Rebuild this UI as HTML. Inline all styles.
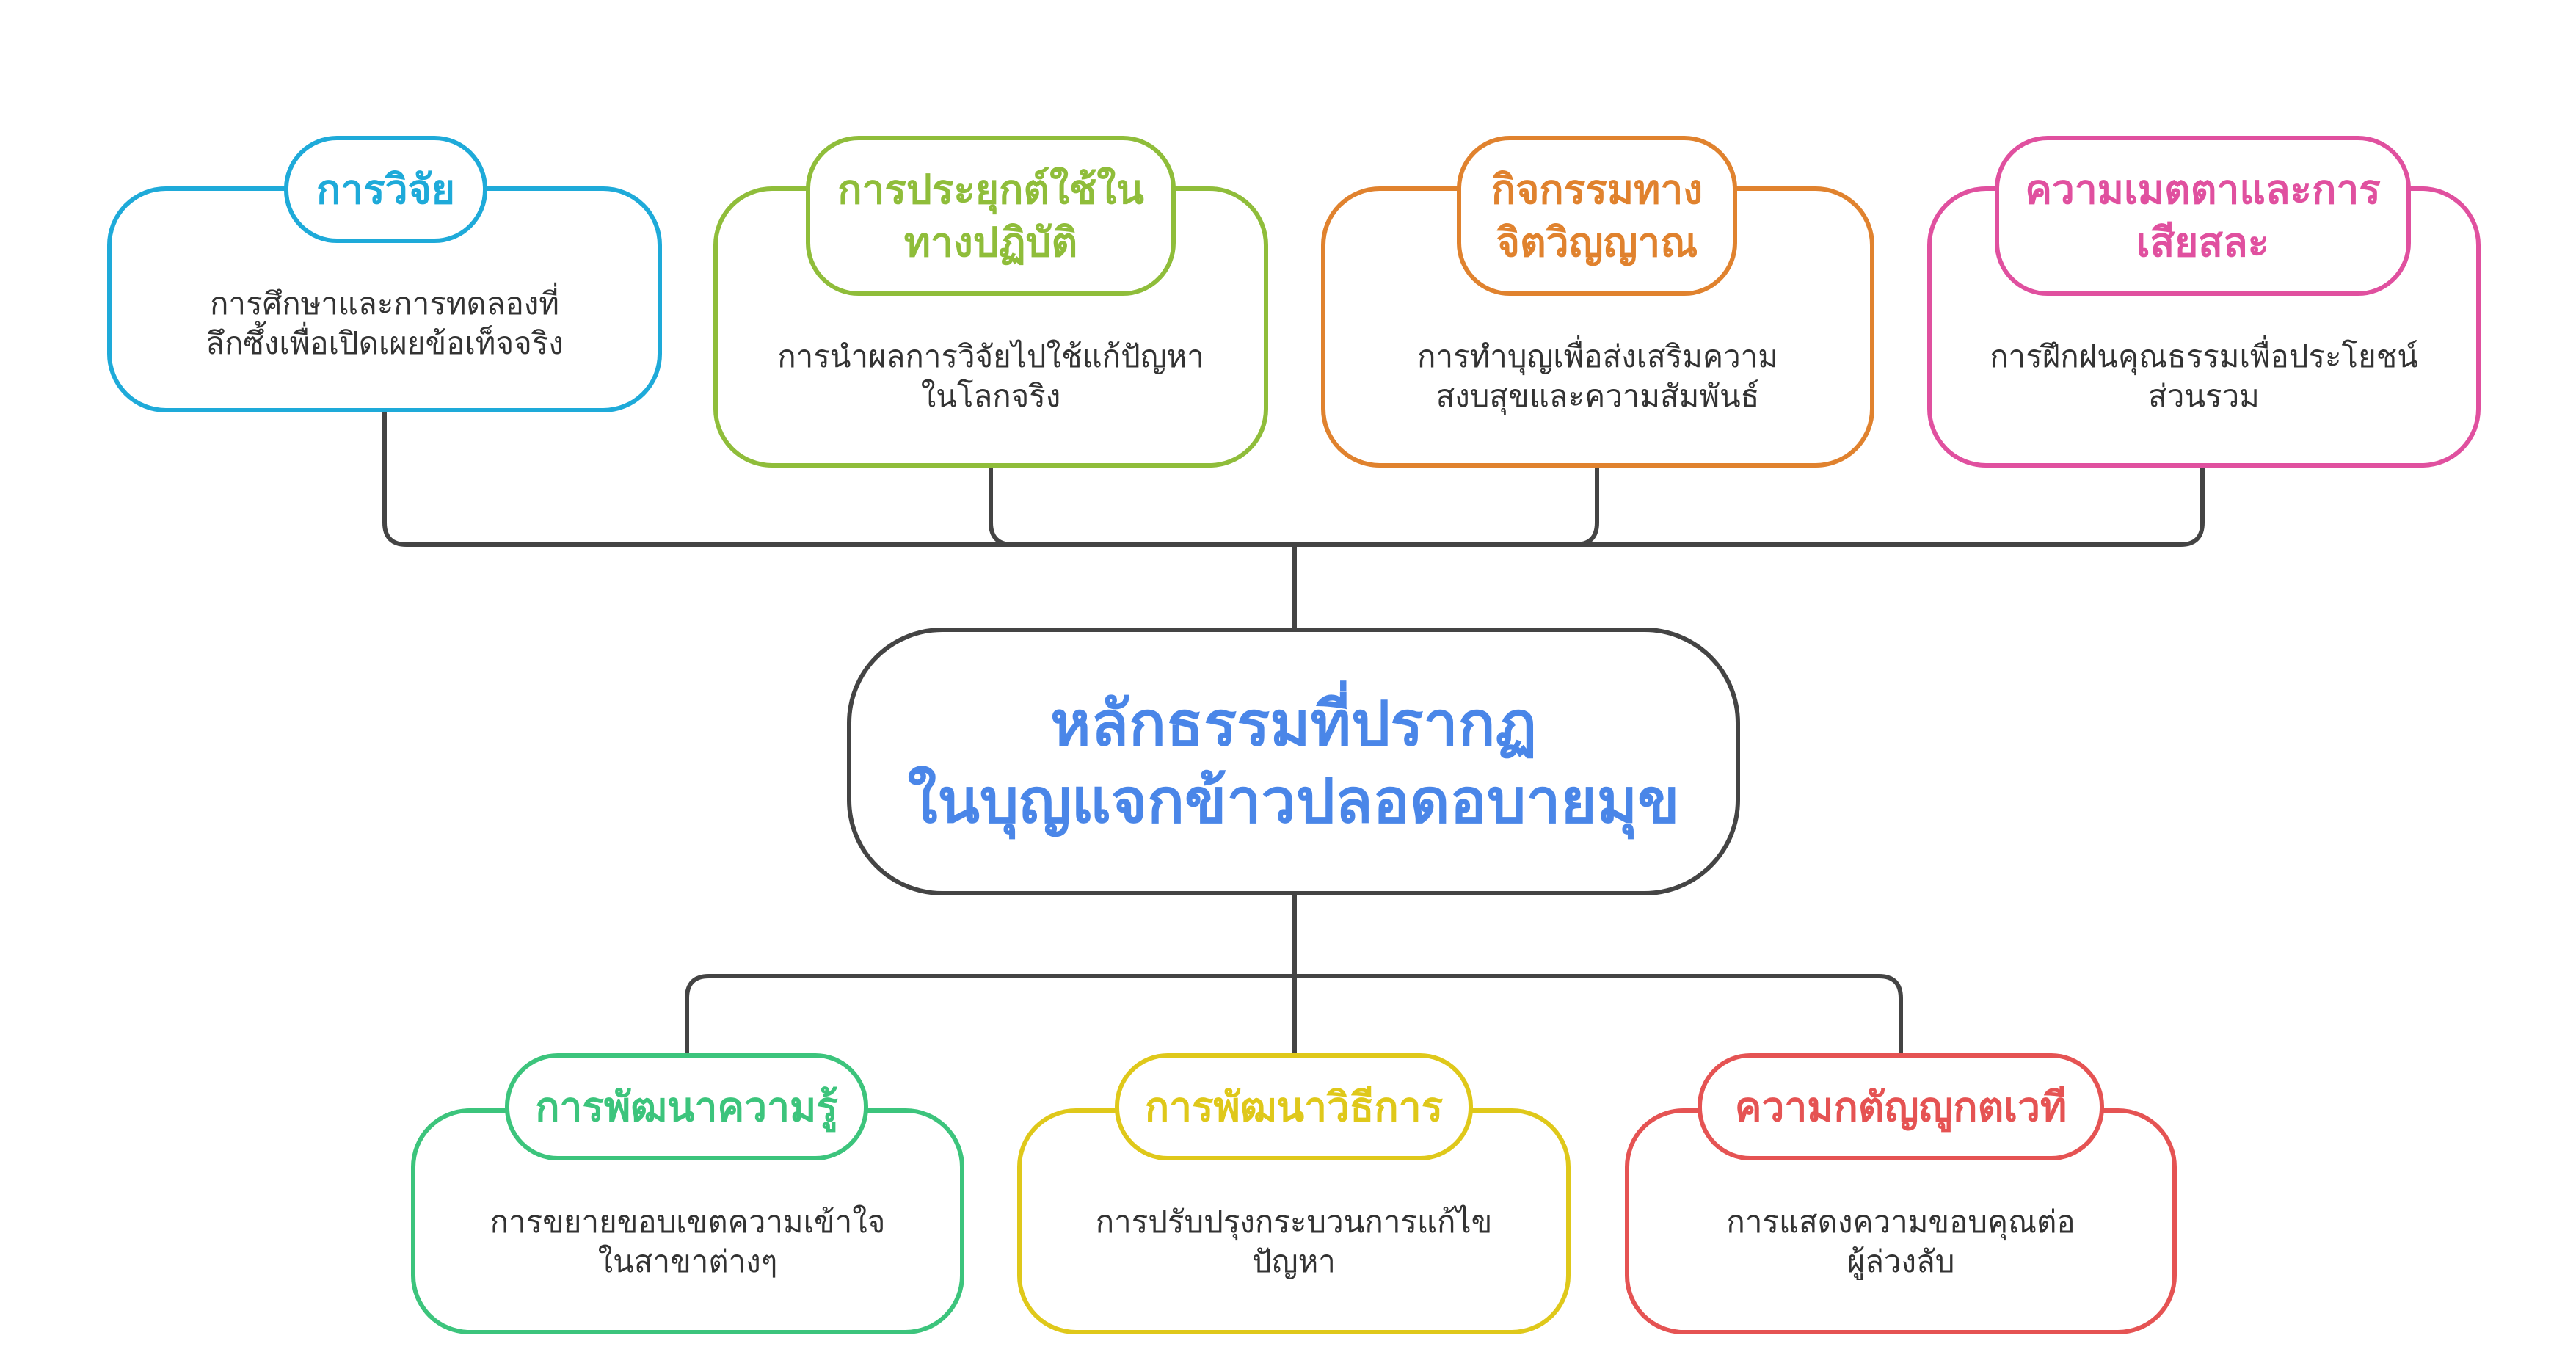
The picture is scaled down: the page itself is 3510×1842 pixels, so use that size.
<!DOCTYPE html>
<html><head><meta charset="utf-8"><style>
html,body{margin:0;padding:0;background:#fff;}
body{width:3510px;height:1842px;position:relative;overflow:hidden;font-family:"Liberation Sans","Noto Sans CJK SC",sans-serif;}
.b{position:absolute;box-sizing:border-box;border:6px solid;border-radius:80px;background:#fff;}
.p{position:absolute;box-sizing:border-box;border:6px solid;border-radius:72px;background:#fff;display:flex;align-items:center;justify-content:center;text-align:center;font-size:55px;line-height:72px;font-weight:bold;}
.d{position:absolute;text-align:center;font-size:42px;line-height:54px;color:#333;}
</style></head><body>
<svg width="3510" height="1842" style="position:absolute;left:0;top:0" fill="none" stroke="#444" stroke-width="6">
<path d="M524 560 V712 Q524 742 554 742 H2971 Q3001 742 3001 712 V630"/>
<path d="M1350 630 V712 Q1350 742 1380 742"/>
<path d="M2176 630 V712 Q2176 742 2146 742"/>
<path d="M1764 742 V860"/>
<path d="M1764 1215 V1440"/>
<path d="M936 1440 V1360 Q936 1330 966 1330 H2560 Q2590 1330 2590 1360 V1440"/>
</svg>

<div class="b" style="left:146px;top:254px;width:756px;height:308px;border-color:#1eaad9"></div>
<div class="p" style="left:387px;top:185px;width:277px;height:146px;border-color:#1eaad9;color:#1eaad9">การวิจัย</div>
<div class="d" style="left:146px;width:756px;top:387px">การศึกษาและการทดลองที่<br>ลึกซึ้งเพื่อเปิดเผยข้อเท็จจริง</div>

<div class="b" style="left:972px;top:254px;width:756px;height:383px;border-color:#8fbd3a"></div>
<div class="p" style="left:1098px;top:185px;width:504px;height:218px;border-color:#8fbd3a;color:#8fbd3a">การประยุกต์ใช้ใน<br>ทางปฏิบัติ</div>
<div class="d" style="left:972px;width:756px;top:459px">การนำผลการวิจัยไปใช้แก้ปัญหา<br>ในโลกจริง</div>

<div class="b" style="left:1800px;top:254px;width:754px;height:383px;border-color:#e0822e"></div>
<div class="p" style="left:1985px;top:185px;width:382px;height:218px;border-color:#e0822e;color:#e0822e">กิจกรรมทาง<br>จิตวิญญาณ</div>
<div class="d" style="left:1800px;width:754px;top:459px">การทำบุญเพื่อส่งเสริมความ<br>สงบสุขและความสัมพันธ์</div>

<div class="b" style="left:2626px;top:254px;width:754px;height:383px;border-color:#e0509f"></div>
<div class="p" style="left:2718px;top:185px;width:567px;height:218px;border-color:#e0509f;color:#e0509f">ความเมตตาและการ<br>เสียสละ</div>
<div class="d" style="left:2626px;width:754px;top:459px">การฝึกฝนคุณธรรมเพื่อประโยชน์<br>ส่วนรวม</div>

<div class="b" style="left:1154px;top:855px;width:1217px;height:365px;border-color:#444;border-radius:130px;"></div>
<div class="d" style="left:1154px;width:1217px;top:934px;font-size:84px;line-height:105px;color:#4a86e8;font-weight:bold">หลักธรรมที่ปรากฏ<br>ในบุญแจกข้าวปลอดอบายมุข</div>

<div class="b" style="left:560px;top:1510px;width:754px;height:308px;border-color:#3cc47c"></div>
<div class="p" style="left:688px;top:1435px;width:495px;height:146px;border-color:#3cc47c;color:#3cc47c">การพัฒนาความรู้</div>
<div class="d" style="left:560px;width:754px;top:1638px">การขยายขอบเขตความเข้าใจ<br>ในสาขาต่างๆ</div>

<div class="b" style="left:1386px;top:1510px;width:754px;height:308px;border-color:#dfc81a"></div>
<div class="p" style="left:1519px;top:1435px;width:488px;height:146px;border-color:#dfc81a;color:#dfc81a">การพัฒนาวิธีการ</div>
<div class="d" style="left:1386px;width:754px;top:1638px">การปรับปรุงกระบวนการแก้ไข<br>ปัญหา</div>

<div class="b" style="left:2214px;top:1510px;width:752px;height:308px;border-color:#e55353"></div>
<div class="p" style="left:2313px;top:1435px;width:554px;height:146px;border-color:#e55353;color:#e55353">ความกตัญญูกตเวที</div>
<div class="d" style="left:2214px;width:752px;top:1638px">การแสดงความขอบคุณต่อ<br>ผู้ล่วงลับ</div>
</body></html>
